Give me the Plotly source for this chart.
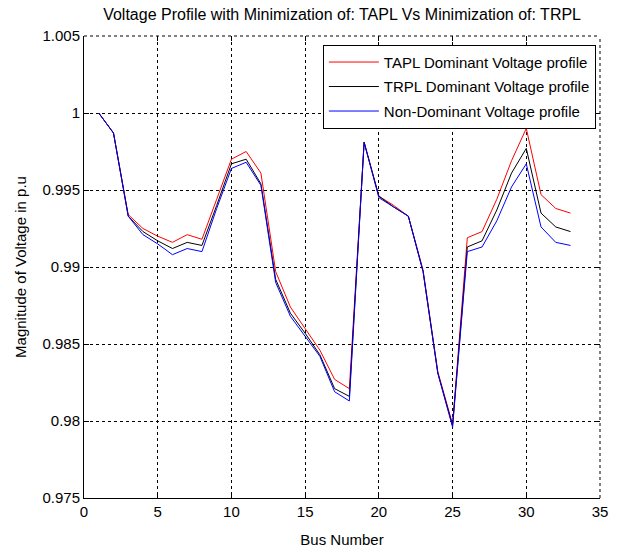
import plotly.graph_objects as go

bus = list(range(1, 34))

tapl = [1.0000, 0.9987, 0.9934, 0.9925, 0.9920, 0.9916, 0.9921, 0.9918, 0.9944, 0.9970,
        0.9975, 0.9961, 0.9897, 0.9874, 0.9860, 0.9846, 0.9827, 0.9821, 0.9981, 0.9946,
        0.9940, 0.9933, 0.9898, 0.9832, 0.9798, 0.9919, 0.9923, 0.9944, 0.9969, 0.9990,
        0.9947, 0.9938, 0.9935]

trpl = [1.0000, 0.9987, 0.9933, 0.9923, 0.9917, 0.9912, 0.9916, 0.9914, 0.9940, 0.9967,
        0.9970, 0.9954, 0.9892, 0.9870, 0.9857, 0.9843, 0.9821, 0.9816, 0.9981, 0.9946,
        0.9939, 0.9933, 0.9897, 0.9831, 0.9797, 0.9913, 0.9917, 0.9937, 0.9961, 0.9977,
        0.9935, 0.9926, 0.9923]

nondom = [1.0000, 0.9987, 0.9933, 0.9921, 0.9915, 0.9908, 0.9912, 0.9910, 0.9938, 0.9964,
          0.9968, 0.9953, 0.9890, 0.9868, 0.9855, 0.9842, 0.9819, 0.9813, 0.9981, 0.9945,
          0.9939, 0.9933, 0.9897, 0.9831, 0.9796, 0.9910, 0.9913, 0.9930, 0.9952, 0.9967,
          0.9926, 0.9916, 0.9914]

x_ticks = [0, 5, 10, 15, 20, 25, 30, 35]
x_ticktext = ["0", "5", "10", "15", "20", "25", "30", "35"]
y_ticks = [0.975, 0.98, 0.985, 0.99, 0.995, 1.0, 1.005]
y_ticktext = ["0.975", "0.98", "0.985", "0.99", "0.995", "1", "1.005"]

names = ["TAPL Dominant Voltage profile", "TRPL Dominant Voltage profile",
         "Non-Dominant Voltage profile"]
colors = ["#ff0000", "#000000", "#0000ff"]

FONT = "Liberation Sans, Arial, sans-serif"
X_RANGE = [0, 35]
Y_RANGE = [0.975, 1.005]

fig = go.Figure()
for i, (name, ys, c) in enumerate(zip(names, [tapl, trpl, nondom], colors)):
    fig.add_trace(go.Scatter(x=bus, y=ys, mode="lines", name=name,
                             legendgroup=f"g{i}",
                             line=dict(color=c, width=1)))

# invisible helper trace so the mirrored (top/right) tick axes are drawn
fig.add_trace(go.Scatter(x=[X_RANGE[0]], y=[Y_RANGE[0]], xaxis="x2", yaxis="y2",
                         mode="markers", marker=dict(opacity=0), showlegend=False,
                         hoverinfo="skip"))

dash_box = dict(color="#000000", width=1, dash="3px,3px")
fig.add_shape(type="line", xref="paper", yref="paper", x0=0, x1=1, y0=1, y1=1,
              line=dash_box, layer="above")
fig.add_shape(type="line", xref="paper", yref="paper", x0=1, x1=1, y0=0, y1=1,
              line=dash_box, layer="above")

fig.update_layout(
    width=622, height=548,
    margin=dict(l=84, r=22, t=36, b=50),
    paper_bgcolor="white", plot_bgcolor="white",
    font=dict(family=FONT, size=15, color="#000000"),
    title=dict(text="Voltage Profile with Minimization of: TAPL Vs Minimization of: TRPL",
               x=0.55, xanchor="center", y=0.973, yanchor="middle",
               font=dict(size=16, family=FONT, color="#000000")),
    legend=dict(x=0.992, y=0.981, xanchor="right", yanchor="top",
                bordercolor="#000000", borderwidth=1, bgcolor="white",
                font=dict(size=15, family=FONT, color="#000000"),
                tracegroupgap=2, itemwidth=50),
    xaxis=dict(range=X_RANGE, tickvals=x_ticks, ticktext=x_ticktext,
               showline=True, linecolor="#000000", linewidth=1,
               ticks="inside", ticklen=5, tickcolor="#000000",
               showgrid=True, gridcolor="#000000", gridwidth=1, griddash="3px,3px",
               zeroline=False, tickfont=dict(size=15), automargin=False,
               title=dict(text="Bus Number", standoff=15, font=dict(size=15))),
    yaxis=dict(range=Y_RANGE, tickvals=y_ticks, ticktext=y_ticktext,
               showline=True, linecolor="#000000", linewidth=1,
               ticks="inside", ticklen=5, tickcolor="#000000",
               showgrid=True, gridcolor="#000000", gridwidth=1, griddash="3px,3px",
               zeroline=False, tickfont=dict(size=15), automargin=False,
               title=dict(text="Magnitude of Voltage in p.u", standoff=12, font=dict(size=15))),
    xaxis2=dict(range=X_RANGE, overlaying="x", side="top", tickvals=x_ticks,
                showticklabels=False, ticks="inside", ticklen=5, tickcolor="#000000",
                showgrid=False, zeroline=False, showline=False),
    yaxis2=dict(range=Y_RANGE, overlaying="y", side="right", tickvals=y_ticks,
                showticklabels=False, ticks="inside", ticklen=5, tickcolor="#000000",
                showgrid=False, zeroline=False, showline=False),
)

fig.write_html("out.html")
